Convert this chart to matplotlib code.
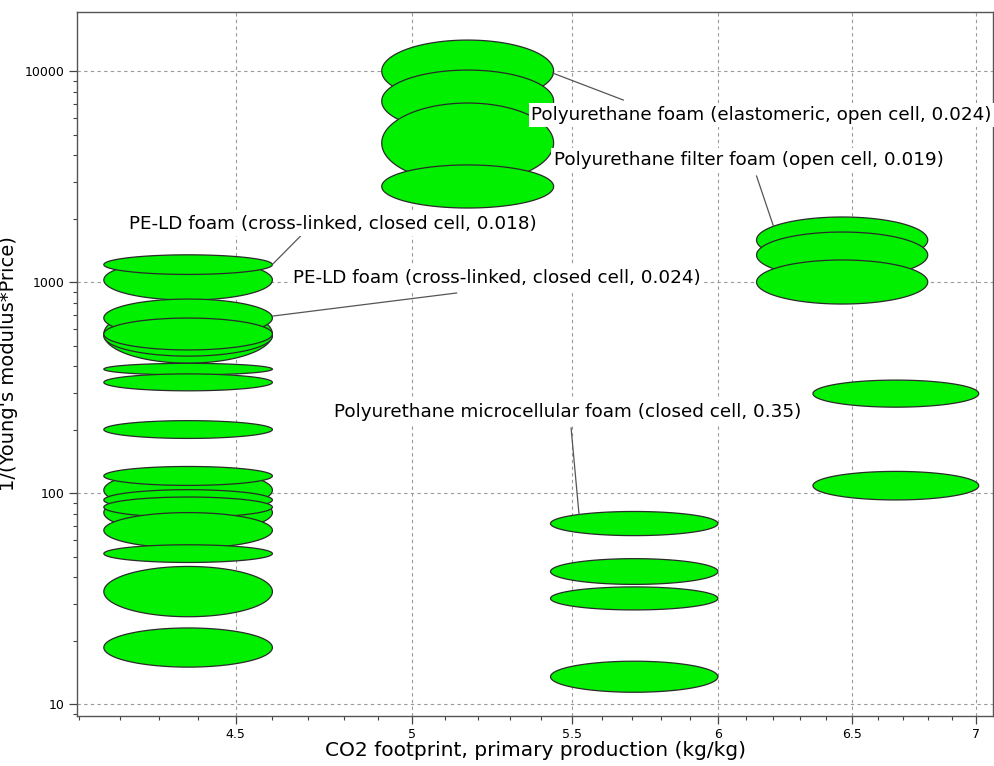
import matplotlib
matplotlib.use("Agg")
import matplotlib.pyplot as plt
import matplotlib.ticker as mticker
import numpy as np

# x ranges (CO2 footprint, kg/kg) of each column of ellipses
left_x = (4.16, 4.60)
midtop_x = (4.91, 5.44)
midlow_x = (5.43, 6.00)
rightup_x = (6.14, 6.80)
rightlow_x = (6.35, 7.01)

# y ranges (1/(E*Price)), listed in drawing order
left_lo = [824, 1090, 414, 447, 551, 478, 364, 306, 182, 83, 65, 109, 83, 77, 55, 47, 26, 15]
left_hi = [1277, 1350, 780, 692, 833, 677, 413, 368, 221, 129, 101, 134, 104, 96, 81, 57, 45, 23]
midtop_lo = [7150, 5150, 2955, 2250]
midtop_hi = [14070, 10140, 7076, 3600]
midlow_lo = [63, 37, 28, 11.4]
midlow_hi = [82, 49, 36, 16]
rightup_lo = [1234, 1048, 789]
rightup_hi = [2040, 1731, 1276]
rightlow_lo = [256, 93]
rightlow_hi = [344, 127]

# labels: text, text anchor (x, y), leader start on ellipse, leader end at label
labels = [
    ("Polyurethane foam (elastomeric, open cell, 0.024)", (5.368, 6200), (5.437, 9815), (5.671, 7311)),
    ("Polyurethane filter foam (open cell, 0.019)", (5.442, 3799), (6.202, 1849), (6.140, 3190)),
    ("PE-LD foam (cross-linked, closed cell, 0.018)", (4.222, 1889), (4.601, 1220), (4.678, 1658)),
    ("PE-LD foam (cross-linked, closed cell, 0.024)", (4.658, 1048), (4.601, 692), (5.134, 890)),
    ("Polyurethane microcellular foam (closed cell, 0.35)", (4.771, 243), (5.497, 204), (5.523, 79.8)),
]

fig = plt.figure(figsize=(9.95, 7.66), dpi=100)
ax = fig.add_axes([0.0774, 0.0653, 0.9206, 0.9194])
ax.set_xscale("log")
ax.set_yscale("log")


def draw_ellipse(xr, ylo, yhi):
    t = np.linspace(0, 2 * np.pi, 240)
    lx = np.log10(xr)
    ly = np.log10([ylo, yhi])
    cx, rx = lx.mean(), (lx[1] - lx[0]) / 2
    cy, ry = ly.mean(), (ly[1] - ly[0]) / 2
    ax.fill(10 ** (cx + rx * np.cos(t)), 10 ** (cy + ry * np.sin(t)),
            facecolor="#00f000", edgecolor="#2a2a2a", linewidth=0.9, zorder=2)


for xr, los, his in [(left_x, left_lo, left_hi), (midtop_x, midtop_lo, midtop_hi),
                     (midlow_x, midlow_lo, midlow_hi), (rightup_x, rightup_lo, rightup_hi),
                     (rightlow_x, rightlow_lo, rightlow_hi)]:
    for lo, hi in zip(los, his):
        draw_ellipse(xr, lo, hi)

for txt, pos, p1, p2 in labels:
    ax.plot([p1[0], p2[0]], [p1[1], p2[1]], color="#555555", linewidth=0.9, zorder=3)
    ax.text(pos[0], pos[1], txt, ha="left", va="center", fontsize=13.2, zorder=4,
            bbox=dict(facecolor="white", edgecolor="none", pad=2))

ax.set_xlim(4.094, 7.07)
ax.set_ylim(8.8, 19170)

xt = [4.5, 5, 5.5, 6, 6.5, 7]
ax.xaxis.set_major_locator(mticker.FixedLocator(xt))
ax.xaxis.set_major_formatter(mticker.FixedFormatter(["4.5", "5", "5.5", "6", "6.5", "7"]))
ax.xaxis.set_minor_locator(mticker.FixedLocator(np.arange(41, 71) / 10))
ax.xaxis.set_minor_formatter(mticker.NullFormatter())
ax.yaxis.set_major_locator(mticker.FixedLocator([10, 100, 1000, 10000]))
ax.yaxis.set_major_formatter(mticker.FixedFormatter(["10", "100", "1000", "10000"]))
ax.yaxis.set_minor_locator(mticker.LogLocator(base=10, subs=np.arange(2, 10)))
ax.yaxis.set_minor_formatter(mticker.NullFormatter())

ax.grid(True, which="major", linestyle=(0, (3, 3)), color="#999999", linewidth=0.8, zorder=0)
ax.set_axisbelow(True)
ax.tick_params(which="major", length=6, width=0.9, color="#444444", labelsize=9, pad=3)
ax.tick_params(which="minor", length=3, width=0.8, color="#444444")
for s in ax.spines.values():
    s.set_color("#555555")
    s.set_linewidth(1.0)

ax.set_xlabel("CO2 footprint, primary production (kg/kg)", fontsize=14.5, labelpad=0)
ax.set_ylabel("1/(Young's modulus*Price)", fontsize=14)
ax.yaxis.set_label_coords(-0.064, 0.5)

fig.savefig("out.png", dpi=100)
